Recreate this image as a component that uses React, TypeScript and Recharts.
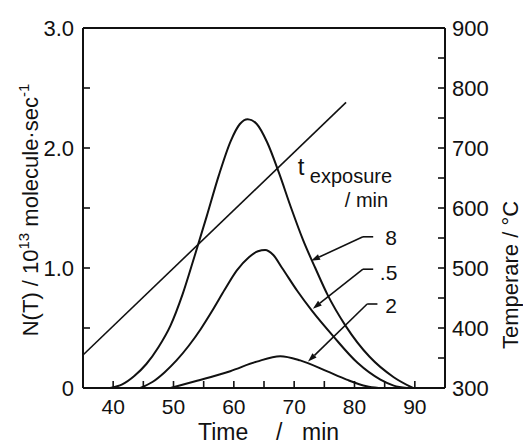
import React from 'react';
import { LineChart, Line, XAxis, YAxis, ReferenceLine, ReferenceDot } from 'recharts';

// axis ticks
const timeTicks = [35, 40, 45, 50, 55, 60, 65, 70, 75, 80, 85, 90, 95];
const nTicks = [0, 0.5, 1, 1.5, 2, 2.5, 3];
const tempTicks = [300, 350, 400, 450, 500, 550, 600, 650, 700, 750, 800, 850, 900];

// exposure 8 min
const c8Time = [39.5, 41.5, 43.5, 45.5, 47.5, 49.5, 51.5, 53.5, 55.5, 57.5, 59.5, 61, 62.3, 63.8, 65.5, 67.5, 69.5, 71.5, 73.5, 75.5, 78.5, 82.5, 86.5, 89.7];
const c8N = [0, 0.03, 0.1, 0.2, 0.34, 0.52, 0.78, 1.1, 1.43, 1.77, 2.06, 2.2, 2.24, 2.2, 2.05, 1.79, 1.5, 1.23, 1.0, 0.78, 0.52, 0.26, 0.09, 0];

// exposure 5 min
const c5Time = [44.5, 46.5, 48.5, 50.5, 52.5, 54.5, 56.5, 58.5, 60.5, 62.5, 64, 65.2, 66.5, 68, 70.5, 73, 76.5, 80.5, 84.3, 86.5, 88.7];
const c5N = [0, 0.05, 0.13, 0.23, 0.35, 0.49, 0.65, 0.82, 0.98, 1.09, 1.14, 1.15, 1.11, 1.0, 0.81, 0.64, 0.43, 0.21, 0.07, 0.02, 0];

// exposure 2 min
const c2Time = [49.5, 53.9, 59.4, 63.8, 67.7, 71, 75.4, 78.7, 82, 84];
const c2N = [0, 0.06, 0.14, 0.22, 0.265, 0.23, 0.14, 0.07, 0.015, 0];

// heating ramp
const rampTime = [35, 78.6];
const rampTemp = [355, 776];

// leader lines: [label end, bend, arrow tip]
const lead8 = [[83.1, 1.26], [81.4, 1.26], [72.8, 1.06]];
const lead5 = [[83.1, 0.99], [81.4, 0.99], [73.1, 0.66]];
const lead2 = [[83.8, 0.7], [82.1, 0.7], [72.3, 0.22]];

const zip = (ts: number[], vs: number[], key: string) => ts.map((t, i) => ({ t, [key]: vs[i] }));

const FONT = '"Liberation Sans", Arial, sans-serif';
const INK = '#111';

const Arrow = (p: any) => {
  const { x1, y1, x2, y2 } = p;
  const a = Math.atan2(y2 - y1, x2 - x1);
  const c = Math.cos(a), s = Math.sin(a);
  const L = 9, W = 3;
  const bx = x2 - L * c, by = y2 - L * s;
  return (
    <g>
      <line x1={x1} y1={y1} x2={bx} y2={by} stroke={INK} strokeWidth={1.6} />
      <polygon points={`${x2},${y2} ${bx - s * W},${by + c * W} ${bx + s * W},${by - c * W}`} fill={INK} />
    </g>
  );
};

const Plain = (p: any) => <line x1={p.x1} y1={p.y1} x2={p.x2} y2={p.y2} stroke={INK} strokeWidth={1.6} />;

const note = (text: string, size: number) => (p: any) => (
  <text x={p.cx} y={p.cy} fontSize={size} fontFamily={FONT} fill={INK}>{text}</text>
);

const leader = (pts: number[][]) => [
  <ReferenceLine key="h" xAxisId="b" yAxisId="l" segment={[{ x: pts[0][0], y: pts[0][1] }, { x: pts[1][0], y: pts[1][1] }]} shape={Plain} />,
  <ReferenceLine key="d" xAxisId="b" yAxisId="l" segment={[{ x: pts[1][0], y: pts[1][1] }, { x: pts[2][0], y: pts[2][1] }]} shape={Arrow} />,
];

const LeftTitle = () => (
  <text transform="translate(38,210) rotate(-90)" textAnchor="middle" fontSize={22} fontFamily={FONT} fill={INK}>
    <tspan>N(T) / 10</tspan>
    <tspan fontSize={15} dy={-9}>13</tspan>
    <tspan dy={9}> molecule·sec</tspan>
    <tspan fontSize={15} dy={-9}>-1</tspan>
  </text>
);

const RightTitle = () => (
  <text transform="translate(518,275) rotate(-90)" textAnchor="middle" fontSize={22} fontFamily={FONT} fill={INK}>
    Temperare / °C
  </text>
);

const BottomTitle = () => (
  <text y={440} fontSize={23} fontFamily={FONT} fill={INK}>
    <tspan x={198}>Time</tspan>
    <tspan x={276}>/</tspan>
    <tspan x={302}>min</tspan>
  </text>
);

export default function App() {
  return (
    <div style={{ position: 'absolute', left: 0, top: 0, width: 523, height: 444, background: '#fff' }}>
      <LineChart width={523} height={444} margin={{ top: 0, right: 0, bottom: 0, left: 0 }}>
        <XAxis xAxisId="t" orientation="top" type="number" dataKey="t" domain={[35, 95]} ticks={timeTicks}
          height={28} tick={false} tickSize={-7} axisLine={{ stroke: INK, strokeWidth: 2 }} tickLine={{ stroke: INK, strokeWidth: 1.6 }} />
        <XAxis xAxisId="b" type="number" dataKey="t" domain={[35, 95]} ticks={timeTicks} height={56}
          tickFormatter={(v: number) => (v % 10 === 0 && v > 35 && v < 95 ? String(v) : '')}
          tickSize={-7} tickMargin={18} tick={{ fontSize: 21, fontFamily: FONT, fill: INK }}
          axisLine={{ stroke: INK, strokeWidth: 2 }} tickLine={{ stroke: INK, strokeWidth: 1.6 }}
          label={{ content: () => <BottomTitle /> }} />
        <YAxis yAxisId="l" type="number" domain={[0, 3]} ticks={nTicks} width={83}
          tickFormatter={(v: number) => (v === 0 ? '0' : Number.isInteger(v) ? v.toFixed(1) : '')}
          tickSize={-7} tickMargin={16} tick={{ fontSize: 22, fontFamily: FONT, fill: INK }}
          axisLine={{ stroke: INK, strokeWidth: 2 }} tickLine={{ stroke: INK, strokeWidth: 1.6 }}
          label={{ content: () => <LeftTitle /> }} />
        <YAxis yAxisId="r" orientation="right" type="number" domain={[300, 900]} ticks={tempTicks} width={78}
          tickFormatter={(v: number) => (v % 100 === 0 ? String(v) : '')}
          tickSize={-7} tickMargin={14} tick={{ fontSize: 22, fontFamily: FONT, fill: INK, textAnchor: 'start' }}
          axisLine={{ stroke: INK, strokeWidth: 2 }} tickLine={{ stroke: INK, strokeWidth: 1.6 }}
          label={{ content: () => <RightTitle /> }} />

        <Line xAxisId="b" yAxisId="r" data={zip(rampTime, rampTemp, 'v')} dataKey="v" type="linear"
          stroke={INK} strokeWidth={1.6} dot={false} isAnimationActive={false} />
        <Line xAxisId="b" yAxisId="l" data={zip(c8Time, c8N, 'v')} dataKey="v" type="monotone"
          stroke={INK} strokeWidth={2} dot={false} isAnimationActive={false} />
        <Line xAxisId="b" yAxisId="l" data={zip(c5Time, c5N, 'v')} dataKey="v" type="monotone"
          stroke={INK} strokeWidth={2} dot={false} isAnimationActive={false} />
        <Line xAxisId="b" yAxisId="l" data={zip(c2Time, c2N, 'v')} dataKey="v" type="monotone"
          stroke={INK} strokeWidth={2} dot={false} isAnimationActive={false} />

        {leader(lead8)}
        {leader(lead5)}
        {leader(lead2)}

        <ReferenceDot xAxisId="b" yAxisId="l" x={70.6} y={1.775} r={0} shape={note('t', 24)} />
        <ReferenceDot xAxisId="b" yAxisId="l" x={72.6} y={1.71} r={0} shape={note('exposure', 20)} />
        <ReferenceDot xAxisId="b" yAxisId="l" x={78.4} y={1.51} r={0} shape={note('/ min', 20)} />
        <ReferenceDot xAxisId="b" yAxisId="l" x={85.1} y={1.19} r={0} shape={note('8', 21)} />
        <ReferenceDot xAxisId="b" yAxisId="l" x={84.2} y={0.9} r={0} shape={note('.5', 21)} />
        <ReferenceDot xAxisId="b" yAxisId="l" x={85.1} y={0.625} r={0} shape={note('2', 21)} />
      </LineChart>
    </div>
  );
}
